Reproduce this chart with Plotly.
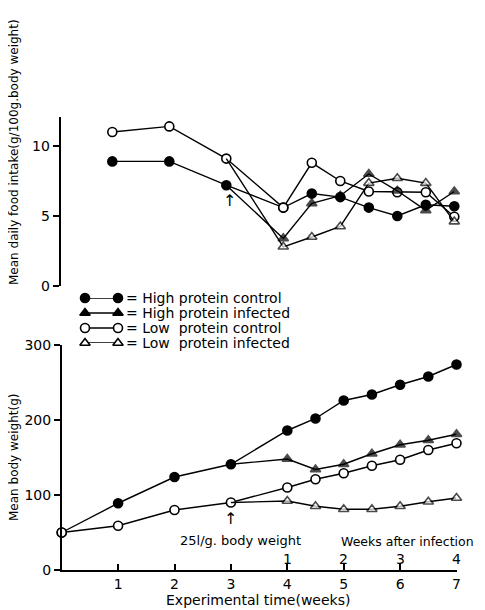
import plotly.graph_objects as go

# ---------------- data ----------------
weeks_top = [1, 2, 3, 4, 4.5, 5, 5.5, 6, 6.5, 7]
weeks_top_inf = [3, 4, 4.5, 5, 5.5, 6, 6.5, 7]
food_hp_control = [8.9, 8.9, 7.2, 5.6, 6.6, 6.35, 5.6, 5.0, 5.8, 5.7]
food_lp_control = [11.0, 11.4, 9.1, 5.6, 8.8, 7.5, 6.75, 6.7, 6.7, 4.95]
food_hp_infected = [7.2, 3.4, 5.9, 6.45, 8.0, 6.8, 5.4, 6.75]
food_lp_infected = [9.1, 2.8, 3.5, 4.25, 7.35, 7.7, 7.35, 4.6]

weeks_bot = [0, 1, 2, 3, 4, 4.5, 5, 5.5, 6, 6.5, 7]
weeks_bot_inf = [3, 4, 4.5, 5, 5.5, 6, 6.5, 7]
bw_hp_control = [50, 89, 124, 141, 186, 202, 226, 234, 247, 258, 274]
bw_lp_control = [50, 59, 80, 90, 110, 121, 129, 139, 147, 160, 169]
bw_hp_infected = [141, 148, 134, 141, 155, 167, 173, 181]
bw_lp_infected = [90, 92, 85, 81, 81, 85, 91, 96]

x_ticks = [1, 2, 3, 4, 5, 6, 7]
inf_tick_pos = [4, 5, 6, 7]
inf_tick_text = ["1", "2", "3", "4"]
bw_ticks = [0, 100, 200, 300]
food_ticks = [0, 5, 10]

series_names = ["High protein control", "High protein infected",
                "Low  protein control", "Low  protein infected"]

# ---------------- styles ----------------
OFF = 8  # page body margin
W, H = 485 - OFF, 610 - OFF
FONT = "DejaVu Sans"
def px(x): return (x - OFF) / W
def py(y): return 1 - (y - OFF) / H

styles = [
    dict(symbol="circle", color="black"),
    dict(symbol="triangle-up", color="black"),
    dict(symbol="circle", color="white"),
    dict(symbol="triangle-up", color="white"),
]
def mk(i, n=None, skip_first=False):
    s = styles[i]
    size = 9
    sizes = size
    if skip_first and n:
        sizes = [0] + [size] * (n - 1)
    return dict(symbol=s["symbol"], size=sizes, color=s["color"],
                line=dict(color="black", width=1.6))

fig = go.Figure()

def add(x, y, i, xa, ya, skip_first=False):
    fig.add_trace(go.Scatter(
        x=x, y=y, mode="lines+markers", xaxis=xa, yaxis=ya,
        line=dict(color="black", width=1.4),
        marker=mk(i, len(x), skip_first), cliponaxis=False,
        showlegend=False, hoverinfo="skip"))

# top chart
add(weeks_top, food_hp_control, 0, "x2", "y2")
add(weeks_top, food_lp_control, 2, "x2", "y2")
add(weeks_top_inf, food_hp_infected, 1, "x2", "y2", skip_first=True)
add(weeks_top_inf, food_lp_infected, 3, "x2", "y2", skip_first=True)

# bottom chart
add(weeks_bot, bw_hp_control, 0, "x", "y")
add(weeks_bot, bw_lp_control, 2, "x", "y")
add(weeks_bot_inf, bw_hp_infected, 1, "x", "y", skip_first=True)
add(weeks_bot_inf, bw_lp_infected, 3, "x", "y", skip_first=True)

# custom legend glyphs
for r in range(4):
    fig.add_trace(go.Scatter(
        x=[0, 1], y=[3 - r, 3 - r], mode="lines+markers", xaxis="x4", yaxis="y4",
        line=dict(color="black", width=1.4), marker=mk(r), cliponaxis=False,
        showlegend=False, hoverinfo="skip"))

axis_font = dict(family=FONT, size=14, color="black")
bot_dom_x = [px(61.7), px(456.5)]
fig.update_layout(
    width=W, height=H, margin=dict(l=0, r=0, t=0, b=0, autoexpand=False),
    paper_bgcolor="white", plot_bgcolor="white",
    font=dict(family=FONT, color="black"),
    xaxis=dict(domain=bot_dom_x, range=[0, 7], anchor="y", automargin=False,
               showline=True, linecolor="black", linewidth=1.5,
               ticks="inside", ticklen=6, tickwidth=1.5, tickcolor="black",
               tickvals=x_ticks, tickfont=axis_font, showgrid=False,
               zeroline=False),
    yaxis=dict(domain=[py(570), py(345)], range=[0, 300], anchor="x",
               automargin=False,
               showline=True, linecolor="black", linewidth=1.5,
               ticks="outside", ticklen=6, tickwidth=1.5, tickcolor="black",
               tickvals=bw_ticks, tickfont=axis_font, showgrid=False,
               zeroline=False),
    xaxis2=dict(domain=[px(55.3), px(454.3)], range=[0, 7], anchor="y2",
                visible=False, automargin=False),
    yaxis2=dict(domain=[py(286), py(117)], range=[0, 12.07], anchor="free",
                position=px(59.5), showline=True, linecolor="black",
                automargin=False,
                linewidth=1.5, ticks="outside", ticklen=6, tickwidth=1.5,
                tickcolor="black", tickvals=food_ticks, tickfont=axis_font,
                showgrid=False, zeroline=False),
    xaxis4=dict(domain=[px(85), px(118)], range=[0, 1], anchor="y4",
                visible=False, automargin=False),
    yaxis4=dict(domain=[py(343), py(298)], range=[0, 3], anchor="x4",
                visible=False, automargin=False),
)

ann = []
legend_rows = [298, 313, 328, 343]
for name, yy in zip(series_names, legend_rows):
    ann.append(dict(x=px(124), y=py(yy), xref="paper", yref="paper",
                    text="= " + name, showarrow=False, xanchor="left",
                    yanchor="middle", font=dict(family=FONT, size=14, color="black")))
for pos, lab in zip(inf_tick_pos, inf_tick_text):
    ann.append(dict(x=pos, y=py(559), xref="x", yref="paper", text=lab,
                    showarrow=False, xanchor="center", yanchor="middle",
                    font=axis_font))
ann += [
    dict(x=px(14), y=py(152), xref="paper", yref="paper", textangle=-90,
         xanchor="center", yanchor="middle",
         text="Mean daily food intake(g/100g.body weight)", showarrow=False,
         font=dict(family=FONT, size=12, color="black")),
    dict(x=px(14), y=py(458), xref="paper", yref="paper", textangle=-90,
         xanchor="center", yanchor="middle",
         text="Mean body weight(g)", showarrow=False,
         font=dict(family=FONT, size=12, color="black")),
    dict(x=px(258), y=py(600), xref="paper", yref="paper",
         xanchor="center", yanchor="middle",
         text="Experimental time(weeks)", showarrow=False,
         font=dict(family=FONT, size=14, color="black")),
    dict(x=px(178), y=py(540), xref="paper", yref="paper", xanchor="left",
         yanchor="middle",
         text="25l/g. body weight", showarrow=False,
         font=dict(family=FONT, size=13, color="black")),
    dict(x=px(476), y=py(541), xref="paper", yref="paper", xanchor="right",
         yanchor="middle",
         text="Weeks after infection", showarrow=False,
         font=dict(family=FONT, size=12.5, color="black")),
    dict(x=3, y=68, xref="x", yref="y", text="↑", showarrow=False,
         xanchor="center", yanchor="middle",
         font=dict(family=FONT, size=16, color="black")),
    dict(x=3.05, y=6.1, xref="x2", yref="y2", text="↑", showarrow=False,
         xanchor="center", yanchor="middle",
         font=dict(family=FONT, size=16, color="black")),
]
fig.update_layout(annotations=ann)

fig.write_html("out.html")
